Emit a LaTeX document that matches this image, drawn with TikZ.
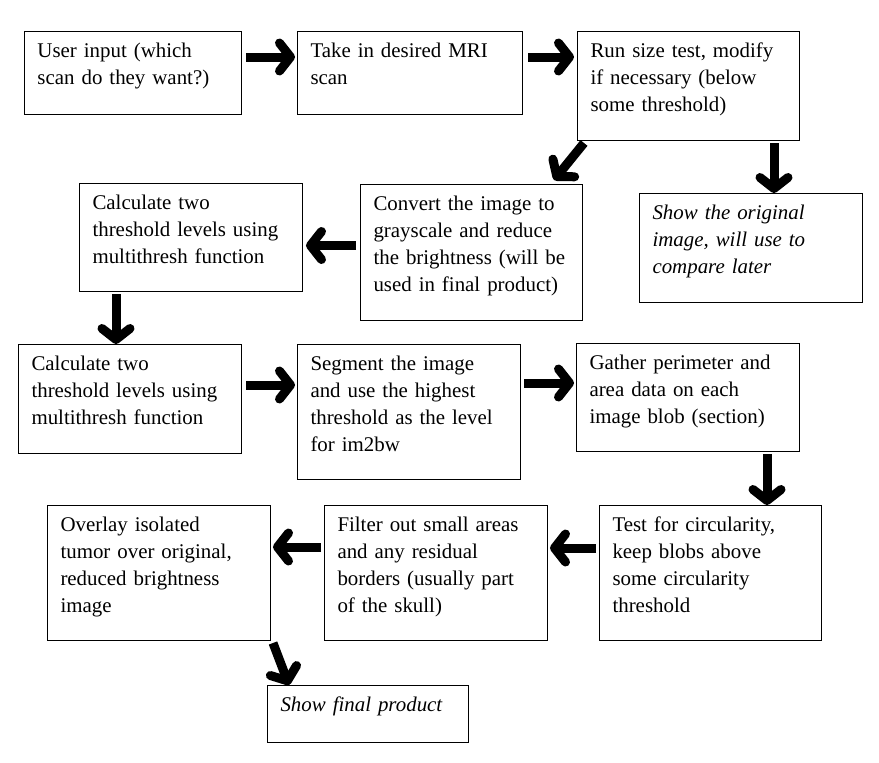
\documentclass[tikz,border=0pt]{standalone}
\usepackage{fontspec}
\setmainfont{Liberation Serif}
\usetikzlibrary{arrows.meta}

\begin{document}
\begin{tikzpicture}[x=1pt, y=-1pt,
    stage/.style={draw, line width=1pt, anchor=north west, inner xsep=13pt,
      inner ysep=0pt, align=left, text height=26pt,
      font=\fontsize{20.9}{27}\selectfont},
    remark/.style={stage, font=\fontsize{20.9}{27}\selectfont\itshape},
    flow/.style={line width=9pt, -{Straight Barb[round, length=11pt, width=28pt]}}]
    \path[use as bounding box, fill=white] (0, 0) rectangle (879, 763);
    \node[stage, text width=191pt, text depth=57pt] (input) at (24, 31)
      {User input (which\\ scan do they want?)};
    \node[stage, text width=199pt, text depth=57pt] (scan) at (297, 31)
      {Take in desired MRI\\ scan};
    \node[stage, text width=196pt, text depth=83pt] (size) at (577, 31)
      {Run size test, modify\\ if necessary (below\\ some threshold)};
    \node[remark, text width=197pt, text depth=83pt] (orig) at (639, 193)
      {Show the original\\ image, will use to\\ compare later};
    \node[stage, text width=196pt, text depth=110pt] (gray) at (360, 184)
      {Convert the image to\\ grayscale and reduce\\ the brightness (will be\\ used in final product)};
    \node[stage, text width=197pt, text depth=82pt] (levels) at (79, 183)
      {Calculate two\\ threshold levels using\\ multithresh function};
    \node[stage, text width=197pt, text depth=83pt] (levelsb) at (18, 344)
      {Calculate two\\ threshold levels using\\ multithresh function};
    \node[stage, text width=197pt, text depth=109pt] (segment) at (297, 344)
      {Segment the image\\ and use the highest\\ threshold as the level\\ for im2bw};
    \node[stage, text width=197pt, text depth=82pt] (gather) at (576, 343)
      {Gather perimeter and\\ area data on each\\ image blob (section)};
    \node[stage, text width=196pt, text depth=109pt] (circ) at (599, 505)
      {Test for circularity,\\ keep blobs above\\ some circularity\\ threshold};
    \node[stage, text width=197pt, text depth=109pt] (filter) at (324, 505)
      {Filter out small areas\\ and any residual\\ borders (usually part\\ of the skull)};
    \node[stage, text width=197pt, text depth=109pt] (overlay) at (47, 505)
      {Overlay isolated\\ tumor over original,\\ reduced brightness\\ image};
    \node[remark, text width=175pt, text depth=31pt] (final) at (267, 685)
      {Show final product};
    % connectors
    \coordinate (to orig) at ([xshift=-26pt]size.south east);
    \coordinate (to levels) at ([yshift=7pt]gray.west);
    \coordinate (to levelsb) at ([xshift=37pt]levels.south west);
    \coordinate (to circ) at ([xshift=-33pt]gather.south east);
    \coordinate (to filter) at ([yshift=25pt]circ.west);
    \coordinate (to overlay) at ([yshift=26pt]filter.west);
    \draw[flow, shorten <=4pt, shorten >=2pt] ([yshift=-26pt]input.north east) -- ([yshift=-26pt]scan.north west);
    \draw[flow, shorten <=5pt, shorten >=3pt] ([yshift=-26pt]scan.north east) -- ([yshift=-26pt]size.north west);
    \draw[flow] ([xshift=7pt, yshift=-2pt]size.south west) -- ([xshift=-29pt, yshift=4pt]gray.north east);
    \draw[flow, shorten <=2pt] (to orig) -- (to orig |- orig.north);
    \draw[flow, shorten <=4pt, shorten >=3pt] (to levels) -- (to levels -| levels.east);
    \draw[flow, shorten <=2pt] (to levelsb) -- (to levelsb |- levelsb.north);
    \draw[flow, shorten <=4pt, shorten >=2pt] ([yshift=-41pt]levelsb.north east) -- ([yshift=-41pt]segment.north west);
    \draw[flow, shorten <=3pt, shorten >=2pt] ([yshift=-39pt]segment.north east) -- ([yshift=-40pt]gather.north west);
    \draw[flow, shorten <=2pt] (to circ) -- (to circ |- circ.north);
    \draw[flow, shorten <=3pt, shorten >=2pt] (to filter) -- (to filter -| filter.east);
    \draw[flow, shorten <=3pt, shorten >=2pt] (to overlay) -- (to overlay -| overlay.east);
    \draw[flow] ([xshift=2pt, yshift=-2pt]overlay.south east) -- ([xshift=22pt]final.north west);
  \end{tikzpicture}
\end{document}
